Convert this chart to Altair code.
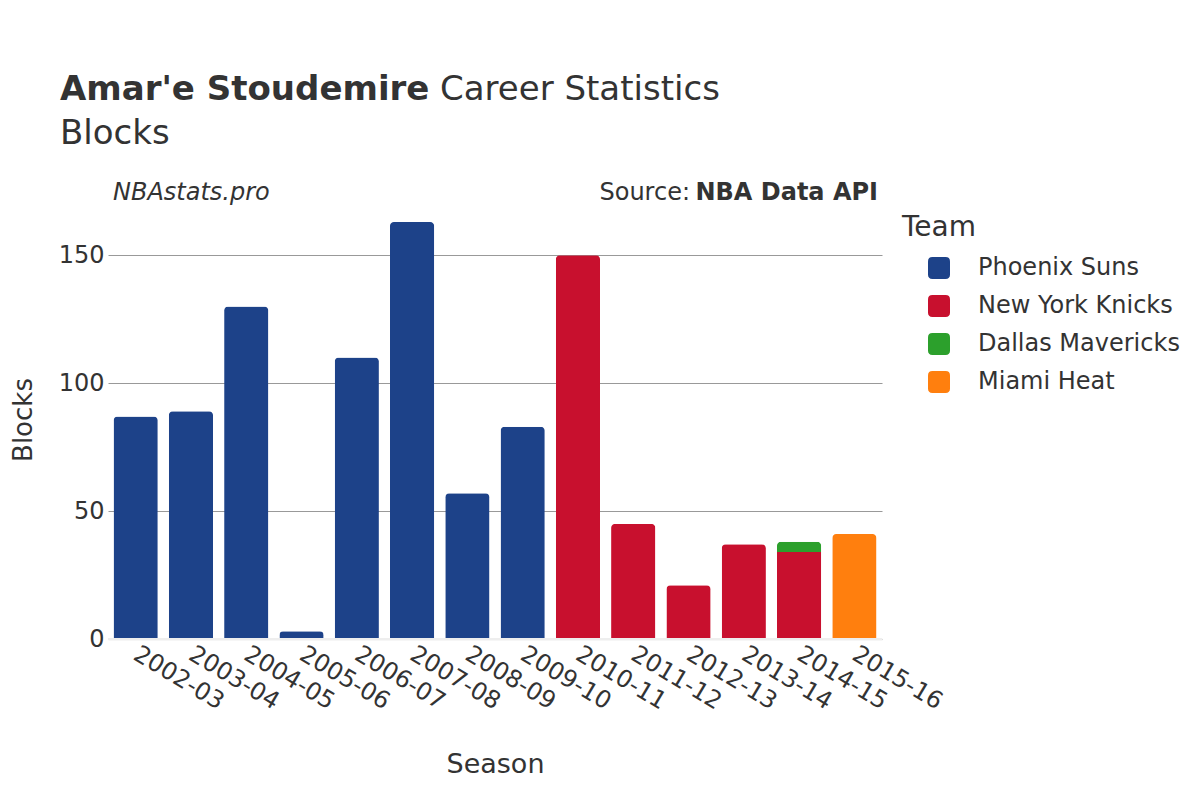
import altair as alt
import pandas as pd

seasons = ["2002-03", "2003-04", "2004-05", "2005-06", "2006-07", "2007-08", "2008-09",
           "2009-10", "2010-11", "2011-12", "2012-13", "2013-14", "2014-15", "2015-16"]
teams = ["Phoenix Suns", "New York Knicks", "Dallas Mavericks", "Miami Heat"]
team_colors = ["#1d4289", "#c8102e", "#2ca02c", "#ff7f0e"]

pho_seasons = ["2002-03", "2003-04", "2004-05", "2005-06", "2006-07", "2007-08", "2008-09", "2009-10"]
pho_blocks = [87, 89, 130, 3, 110, 163, 57, 83]
nyk_seasons = ["2010-11", "2011-12", "2012-13", "2013-14", "2014-15"]
nyk_blocks = [150, 45, 21, 37, 34]
dal_seasons = ["2014-15"]
dal_blocks = [4]
mia_seasons = ["2015-16"]
mia_blocks = [41]

rows = []
for team, ss, bb in [(teams[0], pho_seasons, pho_blocks), (teams[1], nyk_seasons, nyk_blocks),
                     (teams[2], dal_seasons, dal_blocks), (teams[3], mia_seasons, mia_blocks)]:
    for s, b in zip(ss, bb):
        rows.append({"Season": s, "Team": team, "Blocks": b, "TeamOrder": teams.index(team)})
df = pd.DataFrame(rows)

FONT = "DejaVu Sans"
TXT = "#333333"
ROUNDED_SQUARE = ("M-1,-0.6 Q-1,-1 -0.6,-1 L0.6,-1 Q1,-1 1,-0.6 L1,0.6 Q1,1 0.6,1 "
                  "L-0.6,1 Q-1,1 -1,0.6 Z")

bars = alt.Chart(df).mark_bar(cornerRadiusTopLeft=4, cornerRadiusTopRight=4).encode(
    x=alt.X("Season:N", sort=seasons,
            scale=alt.Scale(domain=seasons, paddingInner=0.2, paddingOuter=0.1),
            axis=alt.Axis(title="Season", titleFontSize=27, titleColor=TXT, titleFontWeight="normal",
                          titlePadding=38, labelFontSize=24, labelColor=TXT, labelAngle=31,
                          labelAlign="left", labelBaseline="middle", labelPadding=13,
                          ticks=False, domainColor="#eeeeee", domainWidth=2, grid=False)),
    y=alt.Y("Blocks:Q", stack="zero",
            scale=alt.Scale(domain=[0, 171.6], nice=False, zero=True),
            axis=alt.Axis(title="Blocks", titleFontSize=26, titleColor=TXT, titleFontWeight="normal",
                          titlePadding=22, labelFontSize=24, labelColor=TXT, values=[0, 50, 100, 150],
                          ticks=False, domain=False, labelPadding=4, gridColor="#999999", gridWidth=1)),
    color=alt.Color("Team:N", scale=alt.Scale(domain=teams, range=team_colors),
                    legend=alt.Legend(orient="none", legendX=794, legendY=14, title="Team",
                                      titleFontSize=28, titleColor=TXT, titleFontWeight="normal",
                                      labelFontSize=24, labelColor=TXT, labelLimit=400,
                                      symbolType=ROUNDED_SQUARE,
                                      symbolSize=484, symbolOffset=25, labelOffset=27,
                                      rowPadding=14, titlePadding=14, symbolStrokeWidth=0,
                                      symbolOpacity=1)),
    order=alt.Order("TeamOrder:Q", sort="ascending"),
)

zero_line = alt.Chart(alt.Data(values=[{"v": 0}])).mark_rule(color="#eeeeee", strokeWidth=2).encode(
    y=alt.Y("v:Q"))

one = alt.Data(values=[{}])
t1 = alt.Chart(one).mark_text(text="Amar'e Stoudemire", font=FONT, fontSize=34, fontWeight="bold",
                              color=TXT, align="left", baseline="alphabetic").encode(
    x=alt.value(-48), y=alt.value(-100))
t2 = alt.Chart(one).mark_text(text="Career Statistics", font=FONT, fontSize=34,
                              color=TXT, align="left", baseline="alphabetic").encode(
    x=alt.value(332), y=alt.value(-100))
t3 = alt.Chart(one).mark_text(text="Blocks", font=FONT, fontSize=34,
                              color=TXT, align="left", baseline="alphabetic").encode(
    x=alt.value(-48), y=alt.value(-56))
t4 = alt.Chart(one).mark_text(text="NBAstats.pro", font=FONT, fontSize=24, fontStyle="italic",
                              color=TXT, align="left", baseline="alphabetic").encode(
    x=alt.value(5), y=alt.value(0))
t5 = alt.Chart(one).mark_text(text="NBA Data API", font=FONT, fontSize=24, fontWeight="bold",
                              color=TXT, align="right", baseline="alphabetic").encode(
    x=alt.value(770), y=alt.value(0))
t6 = alt.Chart(one).mark_text(text="Source:", font=FONT, fontSize=24,
                              color=TXT, align="right", baseline="alphabetic").encode(
    x=alt.value(582), y=alt.value(0))

chart = alt.layer(bars, zero_line, t1, t2, t3, t4, t5, t6).properties(
    width=774, height=439,
    autosize=alt.AutoSizeParams(type="none"),
    padding={"left": 100, "top": 192, "right": 300, "bottom": 145},
).configure(font=FONT).configure_view(stroke=None)

chart.save("out.html", embed_options={"renderer": "svg", "actions": False})
